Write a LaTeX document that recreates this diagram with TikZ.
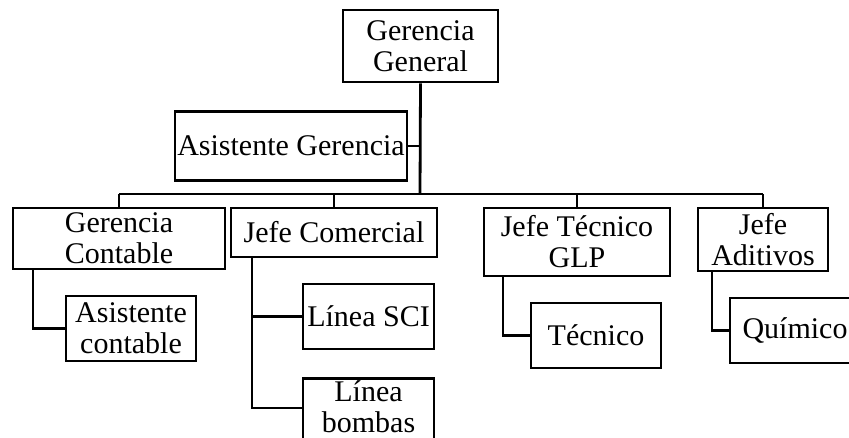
\documentclass[tikz,border=0pt]{standalone}
\usepackage{fontspec}
\setmainfont{Liberation Serif}
\begin{document}
\begin{tikzpicture}[x=1pt,y=-1pt,
  box/.style={draw, line width=2.8pt, inner sep=0pt, align=center,
    font=\fontsize{30}{31}\selectfont},
  link/.style={draw, line width=2.8pt}]
\clip (0,0) rectangle (849,437);

% top level
\node[box, minimum width=155pt, minimum height=72pt] (gg) at (420.5,46) {Gerencia\\General};
\node[box, minimum width=232pt, minimum height=69pt] (ag) at (291,146) {Asistente Gerencia};

% second level
\node[box, minimum width=212pt, minimum height=61pt] (gc) at (119,238.5) {Gerencia\\Contable};
\node[box, minimum width=206pt, minimum height=49pt] (jc) at (334,232.5) {Jefe Comercial};
\node[box, minimum width=186pt, minimum height=68pt] (jt) at (577,242) {Jefe Técnico\\GLP};
\node[box, minimum width=130pt, minimum height=63pt] (ja) at (763,239.5) {Jefe\\Aditivos};

% third level
\node[box, minimum width=130pt, minimum height=65pt] (ac) at (131,328.5) {Asistente\\contable};
\node[box, minimum width=131pt, minimum height=65pt] (sci) at (368.5,316.5) {Línea SCI};
\node[box, minimum width=131pt, inner ysep=2.5pt, text depth=20pt, anchor=north] (lb) at (368.5,377) {Línea\\bombas};
\node[box, minimum width=130pt, minimum height=65pt] (tec) at (596,335.5) {Técnico};
\node[box, minimum width=130pt, minimum height=65pt] (qu) at (795,330.5) {Químico};

% bus under the general management
\coordinate (busL) at (119,194);
\coordinate (busR) at (763,194);
\coordinate (busC) at (420,194);
\coordinate (lbIn) at (303,408);

\draw[link] (gg.south) -- (busC);
\draw[link] (ag.east) -- (ag.east -| gg.south);
\draw[link] (busL) -- (busR);
\draw[link] (busL) -- (gc.north);
\draw[link] (jc.north |- busL) -- (jc.north);
\draw[link] (jt.north |- busL) -- (jt.north);
\draw[link] (busR) -- (ja.north);

% lower branches
\draw[link] ([xshift=-86pt]gc.south) |- (ac.west);
\draw[link] ([xshift=-82pt]jc.south) |- (lbIn);
\draw[link] ([xshift=-82pt]jc.south |- sci.west) -- (sci.west);
\draw[link] ([xshift=-74pt]jt.south) |- (tec.west);
\draw[link] ([xshift=-51pt]ja.south) |- (qu.west);
\end{tikzpicture}
\end{document}
